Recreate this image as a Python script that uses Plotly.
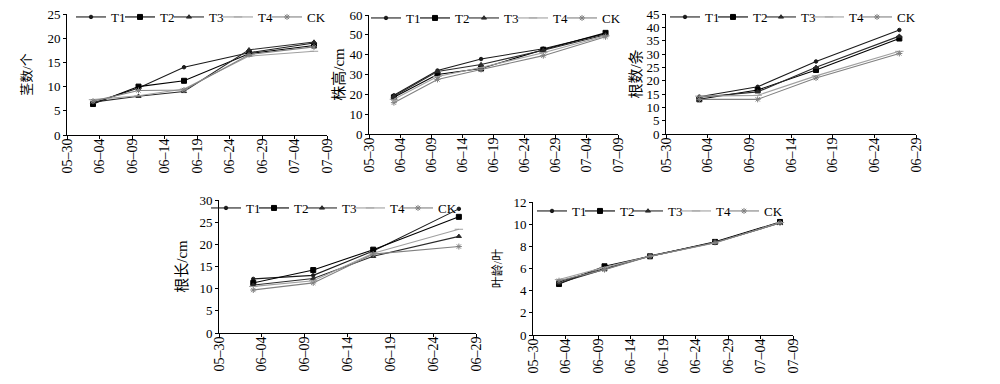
import plotly.graph_objects as go

series_names = ["T1", "T2", "T3", "T4", "CK"]
dates5 = ["2020-06-03", "2020-06-10", "2020-06-17", "2020-06-27", "2020-07-07"]
dates4 = ["2020-06-03", "2020-06-10", "2020-06-17", "2020-06-27"]

# 茎数/个
tiller = {
    "T1": [6.6, 9.7, 14.0, 17.0, 19.0],
    "T2": [6.4, 10.0, 11.2, 16.8, 18.5],
    "T3": [6.8, 8.0, 9.0, 17.6, 19.2],
    "T4": [7.3, 8.1, 9.5, 16.3, 17.3],
    "CK": [7.0, 9.2, 9.3, 16.6, 18.2],
}
# 株高/cm
height = {
    "T1": [19.5, 32.0, 37.8, 43.0, 50.5],
    "T2": [18.5, 30.0, 33.0, 42.5, 51.0],
    "T3": [19.0, 31.5, 35.0, 42.2, 50.0],
    "T4": [17.5, 29.0, 33.5, 41.0, 49.5],
    "CK": [15.8, 27.5, 32.5, 39.5, 49.0],
}
# 根数/条
rootnum = {
    "T1": [14.0, 17.7, 27.2, 39.0],
    "T2": [13.0, 16.5, 24.0, 35.8],
    "T3": [13.8, 15.8, 25.0, 36.7],
    "T4": [14.2, 14.5, 21.8, 31.0],
    "CK": [13.0, 13.0, 21.0, 30.2],
}
# 根长/cm
rootlen = {
    "T1": [12.2, 13.0, 18.5, 28.0],
    "T2": [11.3, 14.2, 18.8, 26.2],
    "T3": [10.8, 12.3, 17.3, 21.8],
    "T4": [10.5, 11.8, 18.0, 23.4],
    "CK": [9.7, 11.3, 17.8, 19.5],
}
# 叶龄/叶
leafage = {
    "T1": [4.8, 6.0, 7.1, 8.35, 10.15],
    "T2": [4.6, 6.2, 7.1, 8.4, 10.2],
    "T3": [4.7, 5.9, 7.15, 8.35, 10.1],
    "T4": [5.0, 6.1, 7.1, 8.3, 10.15],
    "CK": [4.9, 5.9, 7.1, 8.35, 10.1],
}

styles = {
    "T1": dict(color="#1a1a1a", symbol="circle", size=3.5),
    "T2": dict(color="#000000", symbol="square", size=5),
    "T3": dict(color="#2a2a2a", symbol="triangle-up", size=4.5),
    "T4": dict(color="#a0a0a0", symbol="line-ew-open", size=6),
    "CK": dict(color="#808080", symbol="asterisk-open", size=5),
}

FONT = "Liberation Serif, Times New Roman, Noto Sans CJK SC, serif"
# page body has an 8px margin; figure fills the rest of the 1000x384 window
OFF = 8
W, H = 1000 - 2 * OFF, 384 - OFF


def clamp(v):
    return max(0.0, min(1.0, v))


def fx(px):
    return clamp((px - OFF) / W)


def fy(py):
    return clamp(1 - (py - OFF) / H)


panels = [
    dict(data=tiller, dates=dates5, xr=["2020-05-30", "2020-07-09"], yr=25, dy=5,
         title="茎数/个", tsize=13, xd=[67, 327], yd=[14, 135], text0=109, pitch=49, legc=15, standoff=12),
    dict(data=height, dates=dates5, xr=["2020-05-30", "2020-07-09"], yr=60, dy=10,
         title="株高/cm", tsize=15, xd=[369, 618], yd=[15, 134], text0=404, pitch=49, legc=16, standoff=1),
    dict(data=rootnum, dates=dates4, xr=["2020-05-30", "2020-06-29"], yr=45, dy=5,
         title="根数/条", tsize=15, xd=[666, 916], yd=[14, 134], text0=703, pitch=48, legc=15, standoff=1),
    dict(data=rootlen, dates=dates4, xr=["2020-05-30", "2020-06-29"], yr=30, dy=5,
         title="根长/cm", tsize=15, xd=[219, 476], yd=[200, 333], text0=244, pitch=48, legc=206, standoff=8),
    dict(data=leafage, dates=dates5, xr=["2020-05-30", "2020-07-09"], yr=12, dy=2,
         title="叶龄/叶", tsize=12, xd=[533, 793], yd=[202, 335], text0=570, pitch=48, legc=209, standoff=8),
]

fig = go.Figure()
layout = dict(
    width=W, height=H,
    margin=dict(l=0, r=0, t=0, b=0, autoexpand=False),
    paper_bgcolor="white", plot_bgcolor="white",
    font=dict(family=FONT, size=13, color="black"),
    showlegend=True,
)

legend_idx = 0
for i, p in enumerate(panels):
    k = "" if i == 0 else str(i + 1)
    for j, name in enumerate(series_names):
        legend_idx += 1
        lg = "legend" if legend_idx == 1 else "legend%d" % legend_idx
        st = styles[name]
        fig.add_trace(go.Scatter(
            x=p["dates"], y=p["data"][name], name=name, mode="lines+markers",
            line=dict(color=st["color"], width=1.1),
            marker=dict(symbol=st["symbol"], size=st["size"], color=st["color"],
                        line=dict(color=st["color"], width=1)),
            xaxis="x" + k, yaxis="y" + k, legend=lg,
        ))
        layout[lg] = dict(
            x=clamp((p["text0"] + j * p["pitch"] - 46) / W),
            y=fy(p["legc"] + 2), xanchor="left", yanchor="middle",
            orientation="h", bgcolor="rgba(0,0,0,0)",
            font=dict(family=FONT, size=13), itemwidth=30,
        )
    layout["xaxis" + k] = dict(
        domain=[fx(p["xd"][0]), fx(p["xd"][1])], anchor="y" + k, type="date", range=p["xr"],
        tick0="2020-05-30", dtick=5 * 86400000, tickformat="%m–%d",
        tickangle=-90, showline=True, linecolor="black", linewidth=1,
        ticks="outside", ticklen=3, tickcolor="black", showgrid=False, zeroline=False,
        tickfont=dict(family=FONT, size=14), fixedrange=True, automargin=False,
        ticklabelstandoff=-6, ticklabeloverflow="allow",
    )
    layout["yaxis" + k] = dict(
        domain=[fy(p["yd"][1]), fy(p["yd"][0])], anchor="x" + k,
        range=[0, p["yr"]], dtick=p["dy"],
        showline=True, linecolor="black", linewidth=1, ticks="outside", ticklen=3,
        tickcolor="black", showgrid=False, zeroline=False,
        tickfont=dict(family=FONT, size=13), ticklabeloverflow="allow",
        title=dict(text=p["title"], font=dict(family=FONT, size=p["tsize"]), standoff=p["standoff"]),
        fixedrange=True, automargin=False,
    )

fig.update_layout(**layout)
fig.write_html("out.html")
